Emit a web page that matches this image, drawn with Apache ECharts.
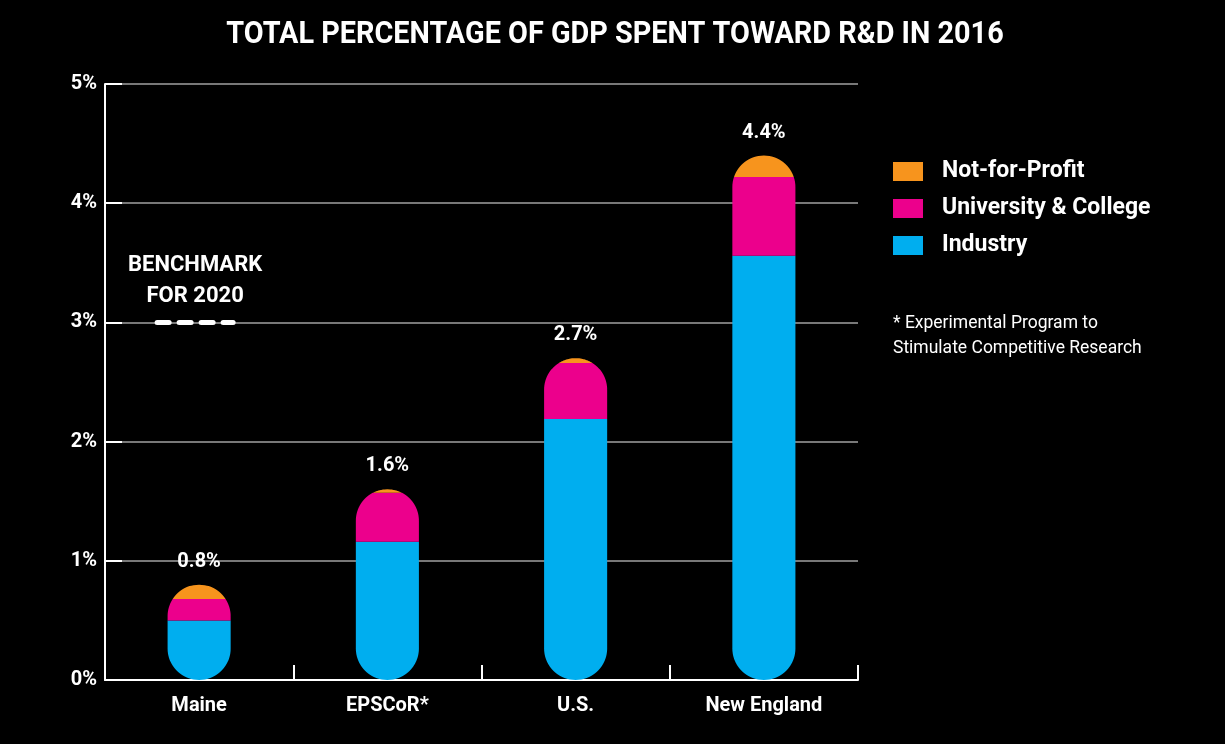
<!DOCTYPE html>
<html>
<head>
<meta charset="utf-8">
<script src="https://cdn.jsdelivr.net/npm/echarts@6/dist/echarts.min.js"></script>
<style>
  html, body { margin: 0; padding: 0; background: #000; }
  #chart { width: 1225px; height: 744px; }
</style>
</head>
<body>
<div id="chart"></div>
<script>
// R&D spending as a share of GDP, 2016, split by performing sector
const categories = ['Maine', 'EPSCoR*', 'U.S.', 'New England'];
const industry = [0.50, 1.16, 2.19, 3.56];
const university = [0.18, 0.41, 0.47, 0.66];
const notForProfit = [0.12, 0.03, 0.04, 0.18];
const benchmark2020 = 3;
const yTicks = [0, 1, 2, 3, 4, 5];

const FONT = "Roboto, 'Liberation Sans', sans-serif";
const COLORS = { nfp: '#F7941D', uni: '#EC008C', ind: '#00AEEF' };

const totals = categories.map((_, i) => industry[i] + university[i] + notForProfit[i]);

// each item: [category index, segment start, segment end, bar total]
function segmentData(lower, values) {
  return values.map((v, i) => {
    const start = lower[i];
    return [i, start, start + v, totals[i]];
  });
}
const indStart = industry.map(() => 0);
const uniStart = industry.slice();
const nfpStart = industry.map((v, i) => v + university[i]);

// pill-shaped bar: draw the part of a stadium shape that lies between two values
function pillSegment(params, api, withLabel) {
  const i = api.value(0);
  const base = api.coord([i, 0]);
  const cx = base[0];
  const yBottom = base[1];
  const yTop = api.coord([i, api.value(3)])[1];
  const ySegBottom = api.coord([i, api.value(1)])[1];
  const ySegTop = api.coord([i, api.value(2)])[1];
  const r = api.size([1, 0])[0] * 0.335 / 2;

  const halfWidth = (y) => {
    const topC = yTop + r;
    const botC = yBottom - r;
    if (y < topC) {
      const d = topC - y;
      return Math.sqrt(Math.max(0, r * r - d * d));
    }
    if (y > botC) {
      const d = y - botC;
      return Math.sqrt(Math.max(0, r * r - d * d));
    }
    return r;
  };

  const steps = Math.max(24, Math.ceil((ySegBottom - ySegTop) * 2));
  const ys = [];
  for (let k = 0; k <= steps; k++) ys.push(ySegTop + (ySegBottom - ySegTop) * k / steps);
  const pts = [];
  ys.forEach(y => pts.push([cx + halfWidth(y), y]));
  ys.slice().reverse().forEach(y => pts.push([cx - halfWidth(y), y]));

  const children = [{
    type: 'polygon',
    shape: { points: pts },
    style: { fill: api.visual('color') }
  }];
  if (withLabel) {
    children.push({
      type: 'text',
      x: cx,
      y: yTop - 23,
      style: {
        text: api.value(3).toFixed(1) + '%',
        fill: '#fff',
        font: 'bold 20px ' + FONT,
        align: 'center',
        verticalAlign: 'middle'
      }
    });
  }
  return { type: 'group', children: children };
}

const chart = echarts.init(document.getElementById('chart'));

chart.setOption({
  backgroundColor: '#000',
  animation: false,
  legend: {
    orient: 'vertical',
    left: 893,
    top: 160,
    padding: 0,
    icon: 'rect',
    itemWidth: 30,
    itemHeight: 19,
    itemGap: 14,
    selectedMode: false,
    data: ['Not-for-Profit', 'University & College', 'Industry'],
    textStyle: {
      color: '#fff', fontSize: 23, fontWeight: 'bold', fontFamily: FONT,
      lineHeight: 20,
      padding: [0, 0, 0, 14]
    }
  },
  grid: { left: 105, right: 367, top: 84, bottom: 64 },
  xAxis: {
    type: 'category',
    data: categories,
    axisLine: { lineStyle: { color: '#fff', width: 2 } },
    axisTick: { show: true, inside: true, length: 15, lineStyle: { color: '#fff', width: 2 } },
    axisLabel: { color: '#fff', fontSize: 20, fontWeight: 'bold', fontFamily: FONT, margin: 16 },
    splitLine: { show: false }
  },
  yAxis: {
    type: 'value',
    min: yTicks[0],
    max: yTicks[yTicks.length - 1],
    interval: 1,
    axisLine: { show: true, lineStyle: { color: '#fff', width: 2 } },
    axisTick: { show: true, inside: true, length: 17, lineStyle: { color: '#fff', width: 2 } },
    axisLabel: {
      color: '#fff', fontSize: 20, fontWeight: 'bold', fontFamily: FONT, margin: 8,
      formatter: v => v + '%'
    },
    splitLine: { show: true, lineStyle: { color: '#a0a0a0', width: 1.5 } }
  },
  graphic: [
    {
      type: 'text',
      x: 615,
      y: 35,
      scaleX: 0.93,
      style: {
        text: 'TOTAL PERCENTAGE OF GDP SPENT TOWARD R&D IN 2016',
        fill: '#fff',
        font: 'bold 31px ' + FONT,
        align: 'center',
        verticalAlign: 'middle'
      }
    },
    {
      type: 'text',
      left: 893,
      top: 311,
      style: {
        text: '* Experimental Program to\nStimulate Competitive Research',
        fill: '#fff',
        font: '17.5px ' + FONT,
        lineHeight: 25
      }
    }
  ],
  series: [
    {
      name: 'Industry',
      type: 'custom',
      itemStyle: { color: COLORS.ind },
      encode: { x: 0, y: [1, 2] },
      data: segmentData(indStart, industry),
      renderItem: (p, api) => pillSegment(p, api, false)
    },
    {
      name: 'University & College',
      type: 'custom',
      itemStyle: { color: COLORS.uni },
      encode: { x: 0, y: [1, 2] },
      data: segmentData(uniStart, university),
      renderItem: (p, api) => pillSegment(p, api, false)
    },
    {
      name: 'Not-for-Profit',
      type: 'custom',
      itemStyle: { color: COLORS.nfp },
      encode: { x: 0, y: [1, 2] },
      data: segmentData(nfpStart, notForProfit),
      renderItem: (p, api) => pillSegment(p, api, true)
    },
    {
      name: 'Benchmark',
      type: 'custom',
      encode: { x: 0, y: 1 },
      data: [[0, benchmark2020]],
      z: 5,
      renderItem: (params, api) => {
        const pt = api.coord([api.value(0), api.value(1)]);
        const cx = pt[0] - 4;
        return {
          type: 'group',
          children: [
            {
              type: 'line',
              shape: { x1: cx - 38, y1: pt[1], x2: cx + 38, y2: pt[1] },
              style: { stroke: '#fff', lineWidth: 5, lineDash: [12, 10], lineCap: 'round' }
            },
            {
              type: 'text',
              x: cx,
              y: pt[1] - 41,
              style: {
                text: 'BENCHMARK\nFOR 2020',
                fill: '#fff',
                font: 'bold 22px ' + FONT,
                lineHeight: 31,
                align: 'center',
                verticalAlign: 'middle'
              }
            }
          ]
        };
      }
    }
  ]
});
</script>
</body>
</html>
